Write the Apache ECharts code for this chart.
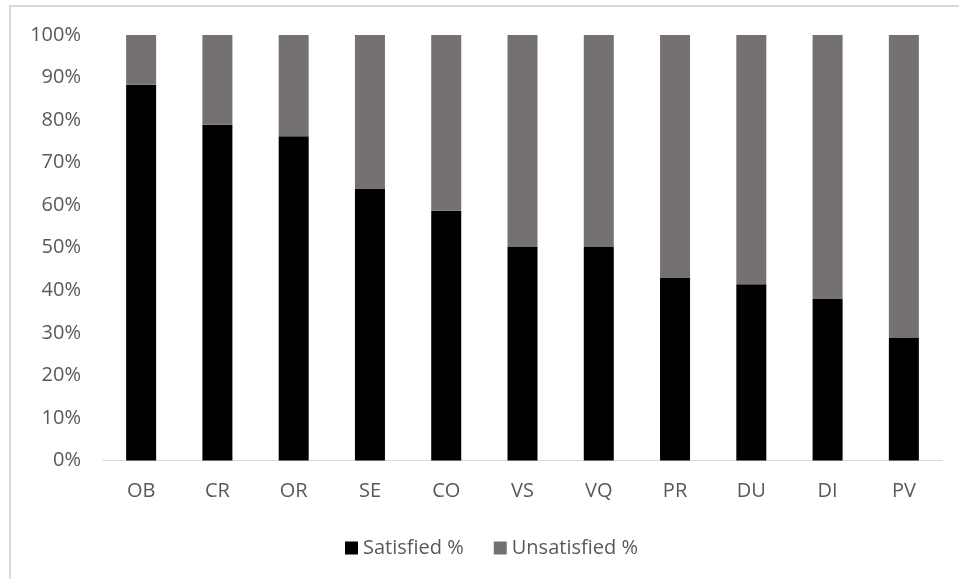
<!DOCTYPE html>
<html>
<head>
<meta charset="utf-8">
<script src="https://cdn.jsdelivr.net/npm/echarts@6/dist/echarts.min.js"></script>
<style>
  html, body { margin: 0; padding: 0; background: #ffffff; }
  #frame { position: absolute; left: 9px; top: 5px; width: 960px; height: 580px;
           border-left: 2px solid #d9d9d9; border-top: 2px solid #d9d9d9; }
  #chart { position: absolute; left: 0; top: 0; width: 959px; height: 579px; }
</style>
</head>
<body>
<div id="frame"></div>
<div id="chart"></div>
<script>
const categories = ['OB', 'CR', 'OR', 'SE', 'CO', 'VS', 'VQ', 'PR', 'DU', 'DI', 'PV'];
const satisfied = [88.3, 78.9, 76.2, 63.9, 58.7, 50.2, 50.2, 42.9, 41.4, 38.1, 28.8];
const unsatisfied = [11.7, 21.1, 23.8, 36.1, 41.3, 49.8, 49.8, 57.1, 58.6, 61.9, 71.2];
const seriesNames = ['Satisfied %', 'Unsatisfied %'];

const chart = echarts.init(document.getElementById('chart'), null, { renderer: 'canvas' });
const font = '"Open Sans", "DejaVu Sans", sans-serif';
chart.setOption({
  backgroundColor: 'transparent',
  animation: false,
  textStyle: { fontFamily: font },
  grid: { left: 103, right: 17, top: 35, bottom: 118.5, containLabel: false },
  legend: {
    data: seriesNames,
    left: 340,
    top: 533,
    padding: 5,
    itemWidth: 13,
    itemHeight: 13,
    itemGap: 30,
    icon: 'rect',
    textStyle: { color: '#595959', fontSize: 20, fontFamily: font }
  },
  xAxis: {
    type: 'category',
    data: categories,
    axisLine: { show: true, lineStyle: { color: '#d9d9d9', width: 1 } },
    axisTick: { show: false },
    axisLabel: { color: '#595959', fontSize: 20, margin: 21, fontFamily: font },
    splitLine: { show: false }
  },
  yAxis: {
    type: 'value',
    min: 0,
    max: 100,
    interval: 10,
    axisLine: { show: false },
    axisTick: { show: false },
    splitLine: { show: false },
    axisLabel: { color: '#595959', fontSize: 20, margin: 22, formatter: '{value}%', fontFamily: font }
  },
  series: [
    {
      name: seriesNames[0],
      type: 'bar',
      stack: 'total',
      data: satisfied,
      barWidth: 30,
      itemStyle: { color: '#000000' }
    },
    {
      name: seriesNames[1],
      type: 'bar',
      stack: 'total',
      data: unsatisfied,
      barWidth: 30,
      itemStyle: { color: '#767171' }
    }
  ]
});
</script>
</body>
</html>
